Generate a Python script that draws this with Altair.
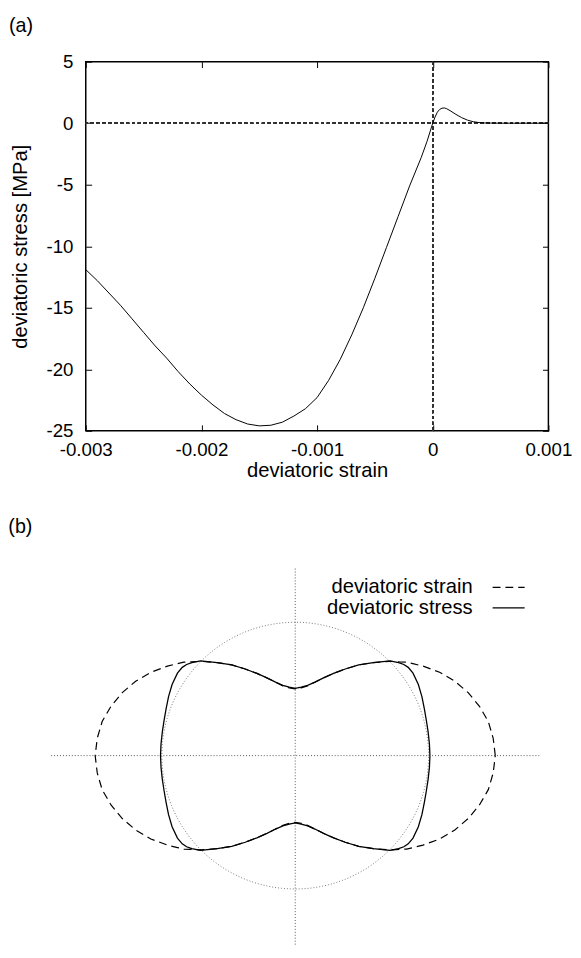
import altair as alt
import pandas as pd
import numpy as np

FONT = "Liberation Sans"

# ---------------- panel (a) data ----------------
strain_a = [-0.0030, -0.0029, -0.0028, -0.0027, -0.0026, -0.0025, -0.0024, -0.0023,
            -0.0022, -0.0021, -0.0020, -0.0019, -0.0018, -0.0017, -0.0016, -0.0015,
            -0.0014, -0.0013, -0.0012, -0.0011, -0.0010, -0.0009, -0.0008, -0.0007,
            -0.0006, -0.0005, -0.0004, -0.0003, -0.0002, -0.0001, -0.00005, 0.0,
            0.00002, 0.00004, 0.00006, 0.00008, 0.0001, 0.00012, 0.00015, 0.0002,
            0.00025, 0.0003, 0.00035, 0.0004, 0.00045, 0.0005, 0.0006, 0.0008, 0.001]
stress_a = [-11.9, -12.8, -13.8, -14.8, -15.9, -17.0, -18.1, -19.1,
            -20.2, -21.2, -22.1, -22.9, -23.6, -24.1, -24.45, -24.6,
            -24.55, -24.3, -23.8, -23.2, -22.3, -20.9, -19.2, -17.2,
            -15.0, -12.6, -10.1, -7.6, -5.1, -2.8, -1.5, 0.0,
            0.5, 0.9, 1.12, 1.22, 1.24, 1.18, 1.02, 0.72,
            0.45, 0.25, 0.12, 0.05, 0.02, 0.01, 0.0, 0.0, 0.0]
x_ticks = [-0.003, -0.002, -0.001, 0, 0.001]
y_ticks = [5, 0, -5, -10, -15, -20, -25]

# ---------------- panel (b) data (one quadrant, mirrored) ----------------
angle_deg = [0, 5, 10, 15, 20, 25, 30, 35, 38, 40, 42, 45, 50, 55, 60, 65, 70, 75, 80, 85, 90]
r_strain = [1.50, 1.49, 1.47, 1.43, 1.38, 1.32, 1.25, 1.17, 1.12, 1.09, 1.05, 1.00,
            0.91, 0.83, 0.75, 0.68, 0.62, 0.57, 0.53, 0.51, 0.50]
r_stress = [1.01, 1.01, 1.012, 1.018, 1.03, 1.048, 1.066, 1.078, 1.075, 1.063, 1.043, 1.005,
            0.91, 0.83, 0.75, 0.68, 0.62, 0.57, 0.535, 0.515, 0.505]
series_names = ["deviatoric strain", "deviatoric stress"]

# ---------- build tables ----------
df_a = pd.DataFrame({"strain": strain_a, "stress": stress_a})
df_a["idx"] = range(len(df_a))


def full_curve(angles, radii, name):
    a = list(angles)
    r = list(radii)
    th, rr = [], []
    th += a; rr += r
    th += [180 - v for v in a[::-1]][1:]; rr += r[::-1][1:]
    th += [180 + v for v in a][1:]; rr += r[1:]
    th += [360 - v for v in a[::-1]][1:]; rr += r[::-1][1:]
    t = np.radians(th)
    return pd.DataFrame({"x": np.array(rr) * np.cos(t), "y": np.array(rr) * np.sin(t),
                         "o": range(len(th)), "series": name})


df_strain = full_curve(angle_deg, r_strain, series_names[0])
df_stress = full_curve(angle_deg, r_stress, series_names[1])
circ_t = np.radians(np.arange(0, 361, 2))
df_circle = pd.DataFrame({"x": np.cos(circ_t), "y": np.sin(circ_t), "o": range(len(circ_t))})

# ---------------- panel (a) chart ----------------
W_A, H_A = 470, 375
xs = alt.Scale(domain=[-0.003, 0.001], nice=False, zero=False)
ys = alt.Scale(domain=[-25, 5], nice=False, zero=False)

common_axis = dict(tickSize=6, offset=-6, domain=False, grid=False, tickColor="black",
                   tickWidth=1, labelFont=FONT, labelFontSize=19, labelColor="black",
                   titleFont=FONT, titleFontSize=20.5, titleFontWeight="normal",
                   titleColor="black", labelExpr="datum.value + ''")

x_bottom = alt.Axis(orient="bottom", values=x_ticks, labelPadding=10, title="deviatoric strain",
                    titlePadding=1, labelFlush=False, labelOverlap=False, **common_axis)
y_left = alt.Axis(orient="left", values=y_ticks, labelPadding=13, title="deviatoric stress [MPa]",
                  titlePadding=15.5, labelFlush=False, labelOverlap=False, **common_axis)
x_top = alt.Axis(orient="top", values=x_ticks, labels=False, title=None, tickSize=6, offset=-6,
                 domain=False, grid=False, tickColor="black")
y_right = alt.Axis(orient="right", values=y_ticks, labels=False, title=None, tickSize=6, offset=-6,
                   domain=False, grid=False, tickColor="black")

curve = alt.Chart(df_a).mark_line(color="black", strokeWidth=1).encode(
    x=alt.X("strain:Q", scale=xs, axis=x_bottom),
    y=alt.Y("stress:Q", scale=ys, axis=y_left),
    order="idx:Q",
)
mirror = alt.Chart(df_a).mark_point(opacity=0).encode(
    x=alt.X("strain:Q", scale=xs, axis=x_top),
    y=alt.Y("stress:Q", scale=ys, axis=y_right),
)
zero_v = alt.Chart(df_a).mark_rule(color="#333333", strokeWidth=0.7, strokeDash=[3, 3]).encode(
    x=alt.XDatum(0, scale=xs, axis=None))
zero_h = alt.Chart(df_a).mark_rule(color="#333333", strokeWidth=0.7, strokeDash=[3, 3]).encode(
    y=alt.YDatum(0, scale=ys, axis=None))

panel_a = alt.layer(zero_h, zero_v, curve, mirror).resolve_axis(
    x="independent", y="independent"
).properties(
    width=W_A, height=H_A,
    view=alt.ViewBackground(stroke="black", strokeWidth=1.5),
    title=alt.TitleParams("(a)", anchor="start", frame="bounds", font=FONT, fontSize=20,
                          fontWeight="normal", color="black", offset=17, dx=-2),
)

# ---------------- panel (b) chart ----------------
U = 135.5            # pixels per unit (both directions)
CX = 299.5 - 86.7    # centre offset from plot left
xb = alt.Scale(domain=[-CX / U, (W_A - CX) / U], nice=False, zero=False)
H_B = 384
yb = alt.Scale(domain=[-H_B / 2 / U, H_B / 2 / U], nice=False, zero=False)
XEXT = 1.83
YEXT = H_B / 2 / U

axis_df = pd.DataFrame({"x": [-XEXT, 0.0], "x2": [XEXT, 0.0], "y": [0.0, -YEXT], "y2": [0.0, YEXT]})
guides = alt.Chart(axis_df).mark_rule(color="#555555", strokeWidth=1, strokeDash=[1, 2]).encode(
    x=alt.X("x:Q", scale=xb, axis=None), x2="x2:Q",
    y=alt.Y("y:Q", scale=yb, axis=None), y2="y2:Q")
circle = alt.Chart(df_circle).mark_line(color="#777777", strokeWidth=1, strokeDash=[1, 2]).encode(
    x=alt.X("x:Q", scale=xb, axis=None), y=alt.Y("y:Q", scale=yb, axis=None), order="o:Q")
strain_line = alt.Chart(df_strain).mark_line(color="black", strokeWidth=1.2, strokeDash=[8, 5]).encode(
    x=alt.X("x:Q", scale=xb, axis=None), y=alt.Y("y:Q", scale=yb, axis=None), order="o:Q")
stress_line = alt.Chart(df_stress).mark_line(color="black", strokeWidth=1.3).encode(
    x=alt.X("x:Q", scale=xb, axis=None), y=alt.Y("y:Q", scale=yb, axis=None), order="o:Q")

# legend (top right, labels left of samples)
LX_TEXT, LX1, LX2 = 1.33, 1.48, 1.72
LY = [1.262, 1.107]
leg_df = pd.DataFrame({"label": series_names, "ly": LY})
leg_text = alt.Chart(leg_df).mark_text(align="right", baseline="middle", font=FONT, fontSize=20.5,
                                       color="black").encode(
    x=alt.XDatum(LX_TEXT, scale=xb, axis=None), y=alt.Y("ly:Q", scale=yb, axis=None), text="label:N")
leg_dash = alt.Chart(leg_df.iloc[[0]]).mark_rule(color="black", strokeWidth=1.2, strokeDash=[8, 5]).encode(
    x=alt.XDatum(LX1, scale=xb, axis=None), x2=alt.datum(LX2), y=alt.Y("ly:Q", scale=yb, axis=None))
leg_solid = alt.Chart(leg_df.iloc[[1]]).mark_rule(color="black", strokeWidth=1.3).encode(
    x=alt.XDatum(LX1, scale=xb, axis=None), x2=alt.datum(LX2), y=alt.Y("ly:Q", scale=yb, axis=None))

panel_b = alt.layer(guides, circle, strain_line, stress_line, leg_text, leg_dash, leg_solid).properties(
    width=W_A, height=H_B,
    view=alt.ViewBackground(stroke=None),
    title=alt.TitleParams("(b)", anchor="start", frame="bounds", font=FONT, fontSize=20,
                          fontWeight="normal", color="black", offset=29.5, dx=-43),
)

chart = alt.vconcat(panel_a, panel_b, spacing=36).properties(
    padding={"left": 0, "top": 0, "right": 0, "bottom": 0}
)

chart.save("out.html", embed_options={"renderer": "svg", "actions": False})
